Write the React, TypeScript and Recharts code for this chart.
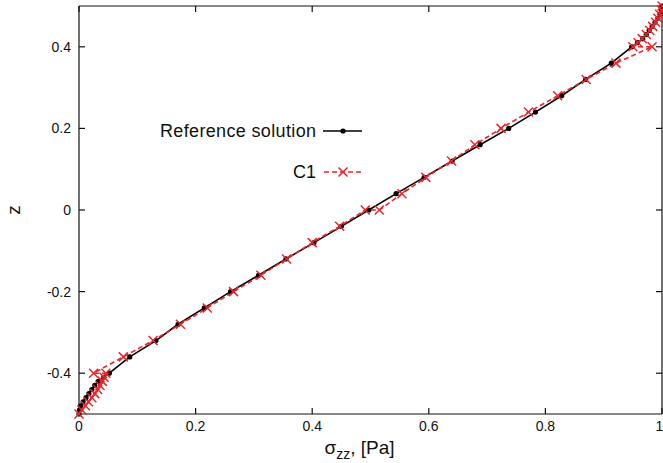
import { LineChart, Line, XAxis, YAxis, Legend, Label } from "recharts";

// sigma_zz ticks and z ticks
const xTicks = [0, 0.2, 0.4, 0.6, 0.8, 1];
const zTicks = [-0.4, -0.2, 0, 0.2, 0.4];

// reference solution
const refZ = [
  -0.5, -0.49, -0.48, -0.47, -0.46, -0.45, -0.44, -0.43, -0.42, -0.41, -0.4,
  -0.36, -0.32, -0.28, -0.24, -0.2, -0.16, -0.12, -0.08, -0.04, 0, 0.04, 0.08,
  0.12, 0.16, 0.2, 0.24, 0.28, 0.32, 0.36, 0.4, 0.41, 0.42, 0.43, 0.44, 0.45,
  0.46, 0.47, 0.48, 0.49, 0.5,
];
const refSigma = [
  0.0, 0.001, 0.003, 0.007, 0.012, 0.017, 0.022, 0.027, 0.033, 0.042, 0.052,
  0.087, 0.132, 0.17, 0.215, 0.26, 0.308, 0.355, 0.403, 0.45, 0.497, 0.544,
  0.592, 0.64, 0.688, 0.737, 0.783, 0.828, 0.869, 0.913, 0.948, 0.958, 0.967,
  0.973, 0.978, 0.983, 0.988, 0.993, 0.997, 0.999, 1.0,
];

// C1 (element-wise, repeated z at element edges)
const c1Z = [
  -0.5, -0.49, -0.48, -0.47, -0.46, -0.45, -0.44, -0.43, -0.42, -0.41, -0.4,
  -0.4, -0.36, -0.32, -0.28, -0.24, -0.2, -0.16, -0.12, -0.08, -0.04, 0,
  0, 0.04, 0.08, 0.12, 0.16, 0.2, 0.24, 0.28, 0.32, 0.36, 0.4,
  0.4, 0.41, 0.42, 0.43, 0.44, 0.45, 0.46, 0.47, 0.48, 0.49, 0.5,
];
const c1Sigma = [
  0.0, 0.005, 0.011, 0.016, 0.022, 0.027, 0.032, 0.036, 0.04, 0.043, 0.046,
  0.025, 0.076, 0.127, 0.174, 0.22, 0.265, 0.312, 0.356, 0.4, 0.447, 0.491,
  0.515, 0.554, 0.595, 0.639, 0.679, 0.724, 0.771, 0.821, 0.87, 0.921, 0.983,
  0.95, 0.959, 0.966, 0.973, 0.979, 0.984, 0.989, 0.993, 0.996, 0.999, 1.0,
];

const refData = refZ.map((z, i) => ({ x: refSigma[i], z }));
const c1Data = c1Z.map((z, i) => ({ x: c1Sigma[i], z }));

const RED = "#e8262a";
const FONT = '"Liberation Sans", Arial, Helvetica, sans-serif';
const tickStyle = { fill: "#111", fontSize: 14, fontFamily: FONT };
const noLabel = () => <g />;

function Cross({ cx, cy, s = 4.5 }: { cx: number; cy: number; s?: number }) {
  return (
    <path
      d={`M${cx - s},${cy - s}L${cx + s},${cy + s}M${cx - s},${cy + s}L${cx + s},${cy - s}`}
      stroke={RED}
      strokeWidth={1.5}
      fill="none"
    />
  );
}

function Legendbox() {
  return (
    <svg width={230} height={70} style={{ fontFamily: FONT, display: "block" }}>
      <text
        x={166}
        y={13}
        dy="0.35em"
        textAnchor="end"
        fontSize={18}
        fill="#111"
        textLength={156}
        lengthAdjust="spacing"
      >
        Reference solution
      </text>
      <line x1={173} x2={212} y1={13} y2={13} stroke="#000" strokeWidth={1.6} />
      <circle cx={193} cy={13} r={2.6} fill="#000" />
      <text x={166} y={54} dy="0.35em" textAnchor="end" fontSize={18} fill="#111">
        C1
      </text>
      <line
        x1={174}
        x2={212}
        y1={54}
        y2={54}
        stroke={RED}
        strokeWidth={1.6}
        strokeDasharray="5 3"
      />
      <Cross cx={193} cy={54} />
    </svg>
  );
}

export default function App() {
  return (
    <div style={{ position: "absolute", left: 0, top: 0, fontFamily: FONT }}>
      <LineChart width={663} height={463} margin={{ top: 5, right: 0, bottom: 0, left: 0 }}>
        <XAxis
          dataKey="x"
          type="number"
          domain={[0, 1]}
          ticks={xTicks}
          height={49}
          tickSize={-6}
          tickMargin={13}
          tick={tickStyle}
          stroke="#111"
          strokeWidth={1.2}
        >
          <Label
            content={(p: any) => {
              const vb = p.viewBox || { x: 79, width: 583 };
              return (
                <text
                  x={vb.x + vb.width / 2 - 46}
                  y={454}
                  textAnchor="start"
                  fontSize={19}
                  fill="#111"
                  fontFamily={FONT}
                >
                  σ<tspan dy={5} fontSize={14}>zz</tspan>
                  <tspan dy={-5}>, [Pa]</tspan>
                </text>
              );
            }}
          />
        </XAxis>
        <XAxis
          xAxisId="top"
          dataKey="x"
          orientation="top"
          type="number"
          domain={[0, 1]}
          ticks={xTicks}
          height={1}
          tickSize={-6}
          tick={noLabel}
          stroke="#111"
          strokeWidth={1.2}
        />
        <YAxis
          dataKey="z"
          type="number"
          domain={[-0.5, 0.5]}
          ticks={zTicks}
          width={79}
          tickSize={-6}
          tickMargin={14}
          tick={tickStyle}
          stroke="#111"
          strokeWidth={1.2}
        >
          <Label
            content={() => (
              <text
                x={13}
                y={210}
                textAnchor="middle"
                dy="0.35em"
                fontSize={19}
                fill="#111"
                fontFamily={FONT}
                transform="rotate(-90 13 210)"
              >
                z
              </text>
            )}
          />
        </YAxis>
        <YAxis
          yAxisId="right"
          dataKey="z"
          orientation="right"
          type="number"
          domain={[-0.5, 0.5]}
          ticks={zTicks}
          width={1}
          tickSize={-6}
          tick={noLabel}
          stroke="#111"
          strokeWidth={1.2}
        />
        <Legend
          layout="vertical"
          align="center"
          verticalAlign="middle"
          wrapperStyle={{ position: "absolute", left: 150, top: 118, width: 230 }}
          content={() => <Legendbox />}
        />
        <Line
          data={refData}
          dataKey="z"
          name="Reference solution"
          stroke="#000"
          strokeWidth={1.6}
          dot={(p: any) => <circle key={`r${p.index}`} cx={p.cx} cy={p.cy} r={2.6} fill="#000" />}
          activeDot={false}
          isAnimationActive={false}
        />
        <Line
          data={c1Data}
          dataKey="z"
          xAxisId="top"
          yAxisId="right"
          name="C1"
          stroke={RED}
          strokeWidth={1.6}
          strokeDasharray="5 3"
          dot={(p: any) => <Cross key={`c${p.index}`} cx={p.cx} cy={p.cy} />}
          activeDot={false}
          isAnimationActive={false}
        />
      </LineChart>
    </div>
  );
}
